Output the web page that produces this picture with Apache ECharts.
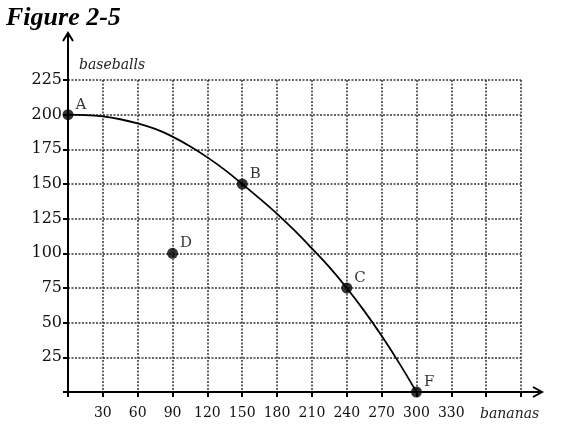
<!DOCTYPE html>
<html>
<head>
<meta charset="utf-8">
<script src="https://cdn.jsdelivr.net/npm/echarts@6/dist/echarts.min.js"></script>
<style>
  html, body { margin: 0; padding: 0; background: #fff; }
  #chart { width: 570px; height: 434px; }
</style>
</head>
<body>
<div id="chart"></div>
<script>
// 曲线上读出的点（每 15 个 bananas 读一次）
const curveX = [0, 15, 30, 45, 60, 75, 90, 105, 120, 135, 150, 165, 180, 195, 210, 225, 240, 255, 270, 285, 300];
const curveY = [200, 199.7, 198.7, 196.7, 193.7, 189.7, 184.2, 177.2, 169.2, 160.2, 150, 139.5, 128.5, 116.5, 103.5, 90, 75, 58.5, 40.5, 21, 0];

// 标注点
const pointNames = ['A', 'B', 'C', 'D', 'F'];
const pointX = [0, 150, 240, 90, 300];
const pointY = [200, 150, 75, 100, 0];

// 坐标轴范围和刻度
const xMax = 390, xStep = 30, xLastLabel = 330;
const yMax = 225, yStep = 25;

const serif = 'DejaVu Serif';
const G = { left: 68, top: 80, width: 453, height: 312 };
const right = G.left + G.width, bottom = G.top + G.height;
const gridLine = { color: '#333', width: 1.5, type: [2, 1.5] };

const chart = echarts.init(document.getElementById('chart'));
chart.setOption({
  animation: false,
  title: {
    text: 'Figure 2-5', left: 1, top: 0,
    textStyle: { fontFamily: 'Liberation Serif', fontStyle: 'italic', fontWeight: 'bold', fontSize: 26, color: '#000' }
  },
  grid: G,
  xAxis: {
    type: 'value', min: 0, max: xMax, interval: xStep,
    name: 'bananas', nameLocation: 'end', nameGap: -41,
    nameTextStyle: { fontFamily: serif, fontStyle: 'italic', fontSize: 14, color: '#222', verticalAlign: 'top', align: 'left', padding: [15, 0, 0, 0] },
    axisLine: { lineStyle: { color: '#000', width: 2 } },
    axisTick: { show: true, length: 5, lineStyle: { color: '#000', width: 2 } },
    axisLabel: {
      margin: 14, fontFamily: serif, fontSize: 14, color: '#111',
      formatter: v => (v > 0 && v <= xLastLabel) ? String(v) : ''
    },
    splitLine: { show: true, lineStyle: gridLine }
  },
  yAxis: {
    type: 'value', min: 0, max: yMax, interval: yStep,
    name: 'baseballs', nameLocation: 'end', nameGap: 15,
    nameTextStyle: { fontFamily: serif, fontStyle: 'italic', fontSize: 14, color: '#222', align: 'left', verticalAlign: 'middle', padding: [0, 0, 0, 11] },
    axisLine: { lineStyle: { color: '#000', width: 2 } },
    axisTick: { show: true, length: 5, lineStyle: { color: '#000', width: 2 } },
    axisLabel: {
      margin: 6, fontFamily: serif, fontSize: 16, color: '#111',
      formatter: v => v > 0 ? String(v) : ''
    },
    splitLine: { show: true, lineStyle: gridLine }
  },
  graphic: [
    // 坐标轴延长线 + 箭头
    { type: 'line', shape: { x1: right, y1: bottom, x2: 542, y2: bottom }, style: { stroke: '#000', lineWidth: 2 }, z: 10 },
    { type: 'polyline', shape: { points: [[533, 387], [542, bottom], [533, 397]] }, style: { stroke: '#000', lineWidth: 2, fill: null }, z: 10 },
    { type: 'line', shape: { x1: G.left, y1: G.top, x2: G.left, y2: 34 }, style: { stroke: '#000', lineWidth: 2 }, z: 10 },
    { type: 'polyline', shape: { points: [[63, 41], [G.left, 33], [73, 41]] }, style: { stroke: '#000', lineWidth: 2, fill: null }, z: 10 }
  ],
  series: [
    {
      type: 'line',
      data: curveX.map((x, i) => [x, curveY[i]]),
      smooth: 0.4,
      showSymbol: false,
      lineStyle: { color: '#000', width: 1.8 },
      z: 3
    },
    {
      type: 'scatter',
      data: pointNames.map((n, i) => ({ name: n, value: [pointX[i], pointY[i]] })),
      symbolSize: 11,
      itemStyle: { color: '#000' },
      label: {
        show: true, formatter: p => p.name, position: 'right', distance: 2, offset: [0, -10],
        fontFamily: serif, fontSize: 15, color: '#000'
      },
      z: 5
    }
  ]
});
</script>
</body>
</html>
